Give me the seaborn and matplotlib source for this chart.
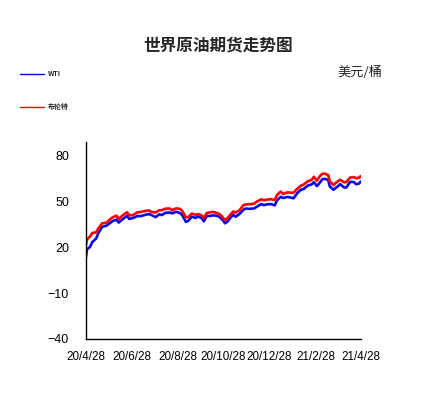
import pandas as pd
import numpy as np
import matplotlib
matplotlib.use("Agg")
import matplotlib.pyplot as plt
from matplotlib.lines import Line2D
import seaborn as sns

# values (USD / barrel)
dates = [
    "2020-04-28", "2020-04-30", "2020-05-04", "2020-05-07", "2020-05-12", "2020-05-15",
    "2020-05-20", "2020-05-26", "2020-05-29", "2020-06-03", "2020-06-08", "2020-06-11",
    "2020-06-16", "2020-06-22", "2020-06-25", "2020-06-30", "2020-07-06", "2020-07-10",
    "2020-07-15", "2020-07-21", "2020-07-24", "2020-07-30", "2020-08-04", "2020-08-07",
    "2020-08-12", "2020-08-18", "2020-08-21", "2020-08-26", "2020-08-31", "2020-09-03",
    "2020-09-08", "2020-09-11", "2020-09-16", "2020-09-21", "2020-09-24", "2020-09-29",
    "2020-10-02", "2020-10-06", "2020-10-09", "2020-10-14", "2020-10-19", "2020-10-23",
    "2020-10-28", "2020-10-30", "2020-11-02", "2020-11-05", "2020-11-10", "2020-11-13",
    "2020-11-18", "2020-11-24", "2020-11-27", "2020-12-02", "2020-12-08", "2020-12-11",
    "2020-12-17", "2020-12-21", "2020-12-24", "2020-12-30", "2021-01-04", "2021-01-07",
    "2021-01-12", "2021-01-15", "2021-01-21", "2021-01-26", "2021-01-29", "2021-02-03",
    "2021-02-08", "2021-02-11", "2021-02-17", "2021-02-22", "2021-02-25", "2021-03-01",
    "2021-03-04", "2021-03-08", "2021-03-11", "2021-03-16", "2021-03-18", "2021-03-23",
    "2021-03-25", "2021-03-30", "2021-04-01", "2021-04-06", "2021-04-09", "2021-04-14",
    "2021-04-19", "2021-04-22", "2021-04-26", "2021-04-28",
]
wti = [
    12.3, 18.8, 20.4, 23.6, 25.8, 29.4,
    33.5, 34.3, 35.5, 37.3, 38.2, 36.3,
    38.4, 40.7, 38.7, 39.3, 40.6, 40.5,
    41.2, 41.9, 41.3, 39.9, 41.7, 41.2,
    42.7, 42.9, 42.3, 43.4, 42.6, 41.4,
    36.8, 37.3, 40.2, 39.3, 40.3, 39.3,
    37.1, 40.7, 40.6, 41.0, 40.8, 39.9,
    37.4, 35.8, 36.8, 38.8, 41.4, 40.1,
    41.8, 44.9, 45.5, 45.3, 45.6, 46.6,
    48.4, 47.7, 48.2, 48.4, 47.6, 50.8,
    53.2, 52.4, 53.1, 52.6, 52.2, 55.7,
    57.9, 58.2, 60.6, 61.3, 62.8, 60.2,
    61.9, 64.6, 65.0, 64.2, 60.0, 57.8,
    58.6, 60.6, 61.5, 59.3, 59.3, 63.0,
    62.9, 61.4, 61.9, 63.2,
]
brent = [
    20.4, 25.3, 27.2, 29.5, 29.9, 32.5,
    35.8, 36.2, 37.8, 39.8, 40.8, 38.6,
    40.9, 43.1, 41.0, 41.2, 43.1, 43.2,
    43.8, 44.3, 43.3, 42.9, 44.4, 44.4,
    45.4, 45.5, 44.4, 45.6, 45.3, 44.1,
    39.8, 39.8, 42.2, 41.4, 41.9, 41.0,
    39.3, 42.6, 42.9, 43.3, 42.6, 41.8,
    39.1, 37.9, 39.0, 40.9, 43.6, 42.8,
    44.3, 47.9, 48.2, 48.3, 48.8, 50.0,
    51.5, 50.9, 51.3, 51.6, 51.1, 54.4,
    56.6, 55.1, 56.1, 55.9, 55.9, 58.5,
    60.6, 61.1, 63.4, 64.3, 66.3, 63.7,
    66.2, 68.2, 68.4, 67.4, 63.3, 60.8,
    61.9, 63.8, 64.3, 62.7, 62.9, 65.8,
    66.1, 65.4, 65.7, 66.8,
]
series_names = ["WTI", "布伦特"]
series_colors = ["#0a0ae6", "#ff0000"]
x_ticks = ["2020-04-28", "2020-06-28", "2020-08-28", "2020-10-28",
           "2020-12-28", "2021-02-28", "2021-04-28"]
x_tick_labels = ["20/4/28", "20/6/28", "20/8/28", "20/10/28", "20/12/28", "21/2/28", "21/4/28"]
y_ticks = [-40, -10, 20, 50, 80]

df = pd.DataFrame({"date": pd.to_datetime(dates), "WTI": wti, "布伦特": brent})
long_df = df.melt(id_vars="date", var_name="series", value_name="price")

sns.set_style("white")
plt.rcParams["font.family"] = ["Liberation Sans", "Noto Sans CJK SC", "DejaVu Sans"]

fig = plt.figure(figsize=(4.48, 3.96), dpi=100)
ax = fig.add_axes([0.191, 0.144, 0.614, 0.497])

sns.lineplot(data=long_df, x="date", y="price", hue="series",
             hue_order=series_names, palette=series_colors,
             linewidth=1.9, legend=False, ax=ax)

ax.set_xlim(pd.Timestamp("2020-04-28"), pd.Timestamp("2021-04-28"))
ax.set_ylim(-40, 89)
ax.set_xticks(pd.to_datetime(x_ticks))
ax.set_xticklabels(x_tick_labels)
ax.set_yticks(y_ticks)
ax.set_xlabel("")
ax.set_ylabel("")
ax.tick_params(axis="both", direction="in", length=3, width=0.8, color="black",
               labelcolor="black")
ax.tick_params(axis="x", pad=9, labelsize=8.4)
ax.tick_params(axis="y", pad=12, labelsize=9)
for side in ["top", "right"]:
    ax.spines[side].set_visible(False)
for side in ["left", "bottom"]:
    ax.spines[side].set_color("black")
    ax.spines[side].set_linewidth(1.0)

# title and unit
fig.text(0.487, 0.886, "世界原油期货走势图", ha="center", va="center",
         fontsize=12, fontweight="bold", family=["Noto Sans CJK SC"])
fig.text(0.803, 0.818, "美元/桶", ha="center", va="center",
         fontsize=9.5, family=["Noto Sans CJK SC", "DejaVu Sans"])

# hand-made legend on the upper left
legend_y = [1 - 74 / 396, 1 - 107 / 396]
for name, color, y in zip(series_names, series_colors, legend_y):
    fig.add_artist(Line2D([20 / 448, 44 / 448], [y, y], color=color, linewidth=1.0))
    fig.text(48 / 448, y, name, ha="left", va="center", fontsize=5,
             fontweight="bold", family=["Noto Sans CJK SC", "DejaVu Sans"])

fig.savefig("out.png", dpi=100)
